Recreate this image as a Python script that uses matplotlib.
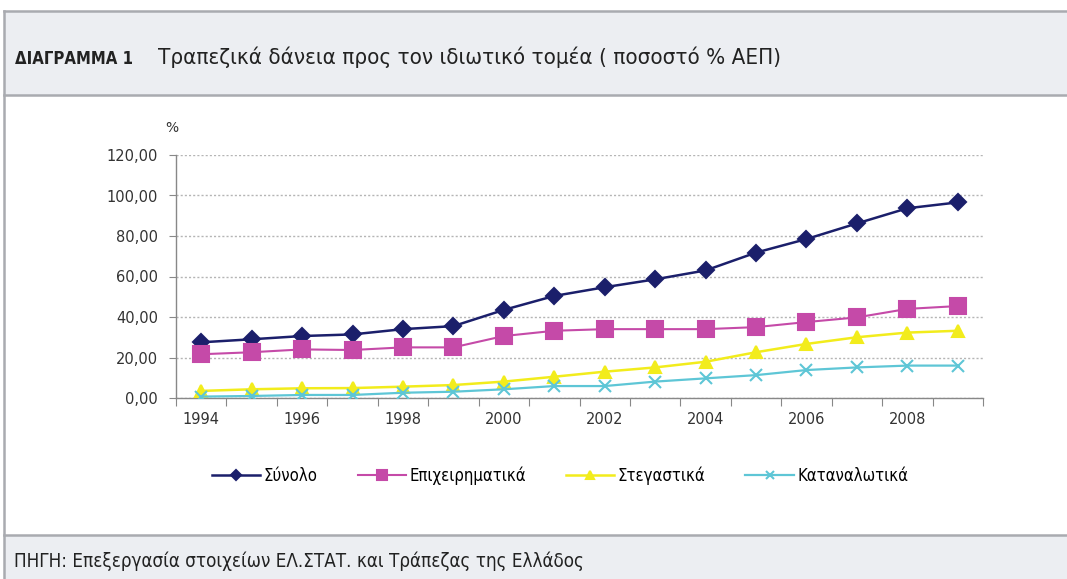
import matplotlib
matplotlib.use("Agg")
import matplotlib.pyplot as plt
from matplotlib.patches import Rectangle
from matplotlib.lines import Line2D

# Bank loans to the private sector, % of GDP
years = list(range(1994, 2010))
total = [27.5, 29.0, 30.6, 31.4, 34.0, 35.5, 43.5, 50.4, 54.7, 58.6, 63.0, 71.8, 78.5, 86.2, 93.7, 96.6]
business = [21.6, 22.6, 24.0, 23.7, 25.0, 25.0, 30.6, 33.2, 34.0, 34.0, 34.0, 35.0, 37.5, 39.8, 44.0, 45.4]
housing = [3.5, 4.3, 4.8, 4.9, 5.6, 6.4, 8.1, 10.5, 13.0, 15.1, 17.9, 22.6, 26.7, 30.0, 32.3, 33.2]
consumer = [0.7, 1.0, 1.5, 1.5, 2.6, 3.1, 4.3, 5.9, 5.9, 8.1, 9.7, 11.3, 13.8, 15.1, 16.0, 16.0]
series_names = ["Σύνολο", "Επιχειρηματικά", "Στεγαστικά", "Καταναλωτικά"]
y_ticks = [0, 20, 40, 60, 80, 100, 120]

W, H = 1067, 579
fig = plt.figure(figsize=(W / 100, H / 100), dpi=100)
fig.patch.set_facecolor("white")

def fx(px):
    return px / W

def fy(py):
    return 1 - py / H

band = "#eceef2"
edge = "#a9abb0"
# header and footer bands
fig.patches.append(Rectangle((fx(5), fy(95)), 1, (95 - 11) / H, transform=fig.transFigure,
                             facecolor=band, edgecolor="none", zorder=0))
fig.patches.append(Rectangle((fx(5), 0), 1, (579 - 535) / H, transform=fig.transFigure,
                             facecolor=band, edgecolor="none", zorder=0))
for yy in (11, 95, 535):
    fig.add_artist(Line2D([fx(4), 1], [fy(yy), fy(yy)], transform=fig.transFigure,
                          color=edge, lw=1.8))
fig.add_artist(Line2D([fx(4), fx(4)], [fy(11), 0], transform=fig.transFigure,
                      color=edge, lw=1.8))

cond = dict(fontstretch="condensed")
fig.text(fx(15), fy(59), "ΔΙΑΓΡΑΜΜΑ 1", fontsize=12, fontweight="bold", color="#222222",
         va="center", ha="left", **cond)
fig.text(fx(158), fy(57), "Τραπεζικά δάνεια προς τον ιδιωτικό τομέα ( ποσοστό % ΑΕΠ)",
         fontsize=16, color="#222222", va="center", ha="left", **cond)
fig.text(fx(14), fy(561), "ΠΗΓΗ: Επεξεργασία στοιχείων ΕΛ.ΣΤΑΤ. και Τράπεζας της Ελλάδος",
         fontsize=13.5, color="#222222", va="center", ha="left", **cond)

ax = fig.add_axes([fx(176), fy(398), fx(983) - fx(176), (398 - 155) / H])
x = list(range(len(years)))

styles = [
    (total, "#1b1f6b", "D", 8, 1.8),
    (business, "#c54aa8", "s", 11, 1.5),
    (housing, "#f2ec1c", "^", 8.5, 1.8),
    (consumer, "#5ec6d6", "x", 8.5, 1.6),
]
handles = []
for (vals, col, mk, ms, lw), name in zip(styles, series_names):
    (h,) = ax.plot(x, vals, color=col, lw=lw, marker=mk, markersize=ms,
                   markerfacecolor=col, markeredgecolor=col, markeredgewidth=1.5,
                   label=name, zorder=3)
    handles.append(h)

ax.set_xlim(-0.5, len(years) - 0.5)
ax.set_ylim(0, 120)
ax.set_yticks(y_ticks)
ax.set_yticklabels([f"{v:.2f}".replace(".", ",") for v in y_ticks], fontsize=10.5, color="#333333")
ax.yaxis.grid(True, linestyle=(0, (1.5, 1.5)), color="#b5b5b5", lw=1.0)
ax.set_axisbelow(True)

# category boundaries carry the tick marks, every second year carries a label
ax.set_xticks([i - 0.5 for i in range(len(years) + 1)])
ax.set_xticklabels([])
ax.set_xticks(x[::2], minor=True)
ax.set_xticklabels([str(y) for y in years[::2]], minor=True, fontsize=10.5, color="#333333")
ax.tick_params(axis="x", which="major", length=6, color="#888888", direction="out")
ax.tick_params(axis="x", which="minor", length=0, pad=10)
ax.tick_params(axis="y", length=5, color="#888888", pad=8)

for s in ("top", "right"):
    ax.spines[s].set_visible(False)
for s in ("left", "bottom"):
    ax.spines[s].set_color("#888888")
    ax.spines[s].set_linewidth(1.0)

fig.text(fx(172), fy(128), "%", fontsize=10, color="#333333", va="center", ha="center")

fig.legend(handles=handles, loc="center", bbox_to_anchor=(fx(560), fy(476)), ncol=4,
           frameon=False, handlelength=2.9, columnspacing=2.4,
           handletextpad=0.2, markerscale=0.6, prop=dict(size=12, stretch="condensed"))

fig.savefig("out.png", dpi=100, facecolor=fig.get_facecolor())
